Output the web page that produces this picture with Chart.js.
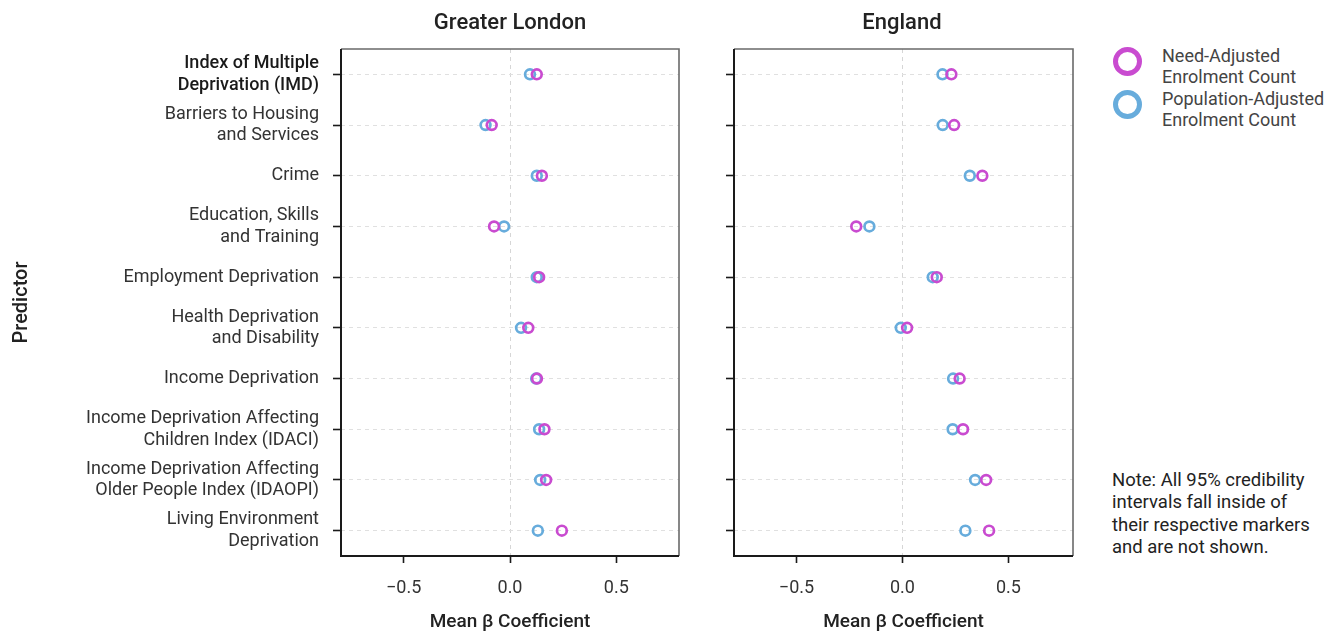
<!DOCTYPE html>
<html>
<head>
<meta charset="utf-8">
<script src="https://cdn.jsdelivr.net/npm/chart.js@4.4.1/dist/chart.umd.min.js"></script>
<style>
  html, body { margin: 0; padding: 0; background: #fff; }
  body { width: 1341px; height: 634px; position: relative; overflow: hidden; font-family: Roboto, "Noto Sans", sans-serif; }
  .wrap { position: absolute; top: 0; }
  .panel-title { position: absolute; top: 8px; font-size: 22px; line-height: 28px; font-weight: 500; color: #222; text-align: center; width: 300px; }
  .legend { position: absolute; left: 1113px; top: 46px; }
  .legend .item { position: relative; height: 43px; }
  .legend .ring { position: absolute; left: 0; width: 19px; height: 19px; border-radius: 50%; border: 5px solid; top: 1px; }
  .legend .txt { position: absolute; left: 49px; top: 0; font-size: 18px; line-height: 20.5px; color: #444; white-space: nowrap; }
  .note { position: absolute; left: 1112px; top: 469px; font-size: 18.5px; line-height: 22.3px; color: #222; white-space: nowrap; }
</style>
</head>
<body>
<div class="wrap" style="left:0;width:690px;height:634px"><canvas id="london"></canvas></div>
<div class="wrap" style="left:690px;width:400px;height:634px"><canvas id="england"></canvas></div>
<div class="panel-title" style="left:360px">Greater London</div>
<div class="panel-title" style="left:752px">England</div>
<div class="legend">
  <div class="item"><div class="ring" style="border-color:#c94bd0"></div><div class="txt">Need-Adjusted<br>Enrolment Count</div></div>
  <div class="item"><div class="ring" style="border-color:#67acdc"></div><div class="txt">Population-Adjusted<br>Enrolment Count</div></div>
</div>
<div class="note">Note: All 95% credibility<br>intervals fall inside of<br>their respective markers<br>and are not shown.</div>
<script>
// Predictors (multi-line labels), top to bottom
const predictors = [
  ['Index of Multiple', 'Deprivation (IMD)'],
  ['Barriers to Housing', 'and Services'],
  'Crime',
  ['Education, Skills', 'and Training'],
  'Employment Deprivation',
  ['Health Deprivation', 'and Disability'],
  'Income Deprivation',
  ['Income Deprivation Affecting', 'Children Index (IDACI)'],
  ['Income Deprivation Affecting', 'Older People Index (IDAOPI)'],
  ['Living Environment', 'Deprivation']
];

// Mean beta coefficients
const londonNeed       = [0.126, -0.086, 0.150, -0.075, 0.137, 0.086, 0.127, 0.162, 0.170, 0.244];
const londonPopulation = [0.094, -0.115, 0.126, -0.028, 0.126, 0.052, 0.123, 0.137, 0.142, 0.131];
const englandNeed       = [0.231, 0.244, 0.377, -0.218, 0.162, 0.022, 0.270, 0.286, 0.395, 0.409];
const englandPopulation = [0.189, 0.190, 0.318, -0.156, 0.143, -0.008, 0.239, 0.237, 0.343, 0.297];

const xTicks = [-0.5, 0, 0.5];

const NEED_COLOR = '#c94bd0';
const POP_COLOR = '#67acdc';

Chart.defaults.font.family = 'Roboto, "Noto Sans", sans-serif';
Chart.defaults.color = '#333';

// Frame round the plotting area: gray top/right, dark left/bottom
const framePlugin = {
  id: 'frame',
  afterDatasetsDraw(chart) {
    const a = chart.chartArea, ctx = chart.ctx;
    ctx.save();
    ctx.strokeStyle = '#6a6a6a';
    ctx.lineWidth = 1.6;
    ctx.beginPath();
    ctx.moveTo(a.left, a.top);
    ctx.lineTo(a.right, a.top);
    ctx.lineTo(a.right, a.bottom);
    ctx.stroke();
    ctx.strokeStyle = '#1a1a1a';
    ctx.lineWidth = 2;
    ctx.beginPath();
    ctx.moveTo(a.left, a.top);
    ctx.lineTo(a.left, a.bottom);
    ctx.lineTo(a.right, a.bottom);
    ctx.stroke();
    ctx.restore();
  }
};

function ringSet(label, data, color) {
  return {
    label, data,
    showLine: false,
    pointStyle: 'circle',
    pointRadius: 4.9,
    pointHoverRadius: 4.9,
    pointBorderWidth: 2.7,
    pointBorderColor: color,
    pointBackgroundColor: 'rgba(0,0,0,0)',
    borderColor: color
  };
}

function makePanel(id, need, population, opts) {
  return new Chart(document.getElementById(id), {
    type: 'line',
    data: {
      labels: predictors,
      datasets: [
        ringSet('Need-Adjusted Enrolment Count', need, NEED_COLOR),
        ringSet('Population-Adjusted Enrolment Count', population, POP_COLOR)
      ]
    },
    options: {
      indexAxis: 'y',
      responsive: true,
      maintainAspectRatio: false,
      animation: false,
      events: [],
      layout: { padding: { top: 49, right: opts.padRight, bottom: 0, left: 0 } },
      plugins: { legend: { display: false }, tooltip: { enabled: false }, title: { display: false } },
      scales: {
        x: {
          type: 'linear',
          position: 'bottom',
          min: opts.min,
          max: opts.max,
          afterBuildTicks(scale) { scale.ticks = xTicks.map(v => ({ value: v })); },
          afterFit(scale) { scale.height = 78; },
          ticks: {
            padding: 15,
            color: '#333',
            font: { size: 18 },
            callback: v => (v < 0 ? '\u2212' : '') + Math.abs(v).toFixed(1)
          },
          grid: {
            color: ctx => (ctx.tick && ctx.tick.value === 0) ? '#d6d6d6' : 'rgba(0,0,0,0)',
            lineWidth: 1,
            drawTicks: true,
            tickLength: 7,
            tickColor: '#1a1a1a',
            tickWidth: 1.6,
            tickBorderDash: []
          },
          border: { display: false, dash: [4, 4] },
          title: {
            display: true,
            text: 'Mean \u03b2 Coefficient',
            color: '#222',
            font: { size: 19, weight: '500', lineHeight: 1 },
            padding: { top: 0, bottom: 2 }
          }
        },
        y: {
          type: 'category',
          offset: true,
          afterFit(scale) { scale.width = opts.yWidth; },
          ticks: {
            display: opts.showLabels,
            padding: 14,
            color: ctx => ctx.index === 0 ? '#1a1a1a' : '#333',
            font: ctx => ({ size: 18, lineHeight: 1.2, weight: ctx.index === 0 ? '500' : '400' })
          },
          grid: {
            offset: false,
            color: '#e0e0e0',
            lineWidth: 1,
            drawTicks: true,
            tickLength: 8,
            tickColor: '#1a1a1a',
            tickWidth: 1.6,
            tickBorderDash: []
          },
          border: { display: false, dash: [4, 4] },
          title: {
            display: opts.showLabels,
            text: 'Predictor',
            color: '#222',
            font: { size: 20, weight: '500', lineHeight: 1.2 },
            padding: { top: 10, bottom: 0 }
          }
        }
      }
    },
    plugins: [framePlugin]
  });
}

makePanel('london', londonNeed, londonPopulation, { min: -0.795, max: 0.795, padRight: 11, yWidth: 341, showLabels: true });
makePanel('england', englandNeed, englandPopulation, { min: -0.795, max: 0.805, padRight: 17, yWidth: 44, showLabels: false });
</script>
</body>
</html>
